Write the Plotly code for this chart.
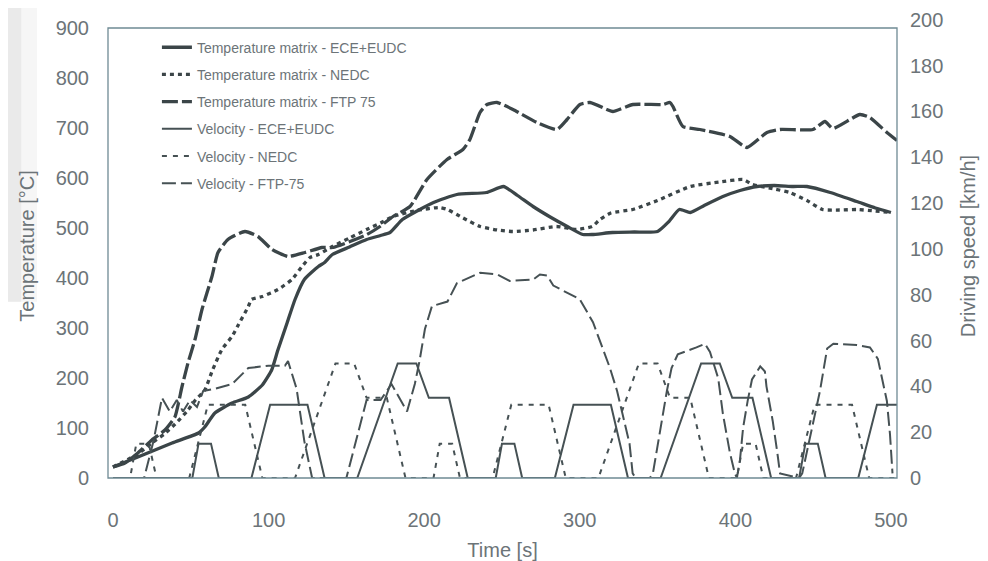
import plotly.graph_objects as go

# ---------------- data ----------------
# Temperature matrix [°C]
t_temp_ece = [0, 16, 38, 55, 59, 65.5, 76.5, 87, 96, 102, 106, 112, 117, 123, 132, 136, 141, 152, 163, 172,
              178, 186, 196, 206, 221, 240, 251, 260, 270, 281, 292, 302, 308, 321, 335, 350, 357, 364, 371, 380,
              392, 403, 414, 425, 437, 446, 461, 478, 490, 500]
temp_ece = [22, 42, 70, 90, 102, 130, 150, 162, 186, 216, 256, 311, 357, 397, 423, 431, 447, 462, 477, 485,
            491, 517, 535, 551, 567, 571, 583, 565, 543, 522, 503, 487, 487, 491, 492, 493, 512, 537, 531, 545,
            563, 575, 583, 585, 583, 583, 571, 553, 540, 531]

t_temp_nedc = [0, 16, 25, 33, 40, 48, 53, 59, 64, 70, 76.5, 80, 87, 89, 96, 106, 115, 121.5, 126.6, 132,
               141, 152, 163, 172, 180, 195, 210, 215, 225, 236, 247, 257, 270, 285, 298, 308, 313, 320, 334, 350,
               371, 390, 405, 411, 425, 435, 446, 456, 467, 478, 490, 500]
temp_nedc = [22, 48, 70, 88, 108, 135, 156, 176, 216, 257, 283, 303, 343, 357, 363, 377, 397, 423, 441, 447,
             463, 480, 497, 510, 523, 535, 541, 537, 520, 503, 496, 493, 496, 503, 497, 503, 517, 530, 537, 555,
             583, 592, 597, 587, 578, 571, 555, 537, 536, 537, 534, 531]

t_temp_ftp = [0, 7.7, 16, 25, 33.4, 39.8, 44.3, 48.2, 52.7, 57.2, 63.6, 67.5, 73.9, 84.8, 93.2, 102.2, 112.5,
              123.4, 134.3, 141.4, 163.2, 171.6, 180, 190.9, 201.8, 214.7, 224.9, 229.4, 235.9, 240.4, 246.8,
              257.1, 272.5, 285.3, 291.8, 300.1, 306.6, 317.5, 321.3, 334.2, 353.5, 358, 359.9, 366.3, 377.2,
              396.5, 407.5, 420.3, 428.7, 449.9, 457.6, 462.7, 480, 486.5, 497.4, 503.9]
temp_ftp = [22, 30, 50, 76, 96, 122, 182, 230, 277, 337, 403, 451, 477, 493, 483, 457, 443,
            451, 461, 461, 487, 503, 523, 543, 597, 637, 657, 677, 731, 747, 751,
            737, 711, 697, 717, 747, 751, 737, 733, 747, 747, 751, 743, 703, 697,
            683, 661, 691, 697, 697, 713, 699, 727, 721, 691, 675]

# Driving speed [km/h]
t_vel_ece = [0, 51, 55, 63, 68, 89, 101, 125, 136, 157, 183, 195, 203, 216, 228, 246, 250, 258, 263, 284,
             296, 320, 331, 352, 378, 390, 398, 411, 423, 441, 445, 453, 458, 479, 491, 505]
vel_ece = [0, 0, 15, 15, 0, 0, 32, 32, 0, 0, 50, 50, 35, 35, 0, 0, 15, 15, 0, 0,
           32, 32, 0, 0, 50, 50, 35, 35, 0, 0, 15, 15, 0, 0, 32, 32]

t_vel_nedc = [0, 11, 15, 23, 28, 49, 61, 85, 96, 117, 143, 155, 163, 176, 188, 206, 210, 218, 223, 244,
              256, 280, 291, 312, 338, 350, 358, 371, 383, 401, 405, 413, 418, 439, 451, 475, 486, 505]
vel_nedc = [0, 0, 15, 15, 0, 0, 32, 32, 0, 0, 50, 50, 35, 35, 0, 0, 15, 15, 0, 0,
            32, 32, 0, 0, 50, 50, 35, 35, 0, 0, 15, 15, 0, 0, 32, 32, 0, 0]

t_vel_ftp = [0, 20, 26, 31.5, 36.5, 41, 45, 49.5, 54, 58, 66, 76.5, 87, 100, 110.5, 112.5, 118, 123, 128, 150,
             163, 172, 179, 189, 194, 197, 200.5, 205, 215, 221, 236, 247, 255, 270, 274.4, 279, 283, 292, 300,
             308.5, 315, 319.4, 324, 328, 332, 334, 336, 345, 347, 353.5, 356, 359, 363, 375, 380.5, 383.7,
             385.6, 389, 392, 396.5, 399.7, 401, 403, 405, 408, 410.7, 416, 419, 420, 424, 427, 428.7, 441,
             443, 454.4, 459, 463, 478, 486.5, 491.6, 497.4, 499.4, 501]
vel_ftp = [0, 0, 16, 35, 29, 34, 29, 34, 31, 38, 39, 41, 48, 49, 49, 51, 39, 16, 0, 0,
           34, 34, 41, 29, 41, 51, 65, 75, 77, 85, 89.6, 88.8, 86, 86.6, 88.8, 88.4, 84, 81, 78,
           68, 56.5, 48, 38, 26, 15, 2, 0, 0, 2, 28, 38, 48, 54, 57, 58.6, 55,
           51, 43.5, 28, 11, 2, 0, 8, 22, 34, 43, 48.7, 46.5, 40, 25, 11, 2, 0,
           2, 38, 56.5, 58.6, 58, 57, 52, 33.6, 19, 2]

x_ticks = [0, 100, 200, 300, 400, 500]
temp_ticks = [0, 100, 200, 300, 400, 500, 600, 700, 800, 900]
vel_ticks = [0, 20, 40, 60, 80, 100, 120, 140, 160, 180, 200]

# ---------------- figure ----------------
DARK = "#3b4548"
VEL = "#465154"
TXT = "#6c7478"
FONT = "Liberation Sans, Arial, sans-serif"

fig = go.Figure()
fig.add_trace(go.Scatter(x=t_temp_ece, y=temp_ece, mode="lines", name="Temperature matrix - ECE+EUDC",
                         line=dict(color=DARK, width=3.3, shape="spline", smoothing=0.5), legendgroup="a"))
fig.add_trace(go.Scatter(x=t_temp_nedc, y=temp_nedc, mode="lines", name="Temperature matrix - NEDC",
                         line=dict(color=DARK, width=3.3, dash="4px,4px", shape="spline", smoothing=0.5),
                         legendgroup="b"))
fig.add_trace(go.Scatter(x=t_temp_ftp, y=temp_ftp, mode="lines", name="Temperature matrix - FTP 75",
                         line=dict(color=DARK, width=3.3, dash="16px,4px", shape="spline", smoothing=0.5),
                         legendgroup="c"))
fig.add_trace(go.Scatter(x=t_vel_ece, y=vel_ece, mode="lines", name="Velocity - ECE+EUDC", yaxis="y2",
                         line=dict(color=VEL, width=2), legendgroup="d"))
fig.add_trace(go.Scatter(x=t_vel_nedc, y=vel_nedc, mode="lines", name="Velocity - NEDC", yaxis="y2",
                         line=dict(color=VEL, width=2, dash="5px,6px"), legendgroup="e"))
fig.add_trace(go.Scatter(x=t_vel_ftp, y=vel_ftp, mode="lines", name="Velocity - FTP-75", yaxis="y2",
                         line=dict(color=VEL, width=2, dash="14px,5px"), legendgroup="f"))

axis_font = dict(family=FONT, size=20, color=TXT)

# page body has an 8 px margin, so the figure is drawn 8 px right and down
fig.update_layout(
    width=980, height=553,
    margin=dict(l=100, r=91, t=6, b=83, autoexpand=False),
    paper_bgcolor="white", plot_bgcolor="white",
    font=dict(family=FONT, color=TXT),
    showlegend=True,
    legend=dict(x=0.062, y=0.962, xanchor="left", yanchor="top", bgcolor="rgba(0,0,0,0)",
                font=dict(family=FONT, size=14, color=TXT), tracegroupgap=6, itemwidth=30),
    xaxis=dict(range=[-3.2, 503.9], tickvals=x_ticks, showgrid=False, zeroline=False, showline=False,
               ticks="", ticklabelstandoff=28, tickfont=axis_font, automargin=False,
               title=dict(text="Time [s]", font=axis_font, standoff=14)),
    yaxis=dict(range=[0, 928], tickvals=temp_ticks, showgrid=False, zeroline=False, showline=False,
               ticks="", ticklabelstandoff=18, tickfont=axis_font, automargin=False,
               title=dict(text="Temperature [°C]", font=axis_font, standoff=15)),
    yaxis2=dict(range=[0, 202.5], tickvals=vel_ticks, overlaying="y", side="right", showgrid=False,
                zeroline=False, showline=False, ticks="", ticklabelstandoff=12, tickfont=axis_font,
                automargin=False, ticklabeloverflow="allow",
                title=dict(text="Driving speed [km/h]", font=axis_font, standoff=18)),
    shapes=[
        # scan shading at the left edge
        dict(type="rect", xref="paper", yref="paper", x0=-0.137, x1=-0.09, y0=0.38, y1=1.03,
             fillcolor="rgba(130,130,130,0.07)", line=dict(width=0), layer="below"),
        dict(type="rect", xref="paper", yref="paper", x0=-0.137, x1=-0.11, y0=0.38, y1=1.03,
             fillcolor="rgba(130,130,130,0.10)", line=dict(width=0), layer="below"),
        # frame
        dict(type="rect", xref="paper", yref="paper", x0=0, x1=1, y0=0, y1=900 / 928,
             line=dict(color="#6f8a94", width=1.3), layer="above"),
    ],
)

fig.write_html("out.html")
